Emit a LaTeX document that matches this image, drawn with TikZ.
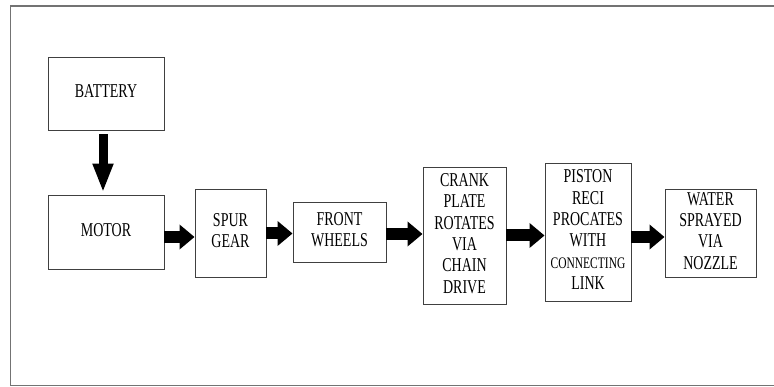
\documentclass[tikz,border=0pt]{standalone}
\usepackage{fontspec}
\setmainfont{Liberation Serif}
\usepackage{graphicx}
\usetikzlibrary{arrows.meta}

% tall, narrow lettering of the block labels
\newcommand{\blocktext}[1]{\scalebox{1}[1.4]{\begin{tabular}{@{}c@{}}#1\end{tabular}}}
\newcommand{\smallword}[1]{{\fontsize{11.5}{15.3}\selectfont #1}}

\begin{document}
\begin{tikzpicture}[x=1pt, y=-1pt]

  % Styles
  \tikzset{
    block/.style={draw=black!75, line width=0.9pt, inner sep=0pt,
      font=\fontsize{14}{15.3}\selectfont},
    flow/.style={line width=12pt, -{Triangle[length=15pt, width=24pt]}},
    drop/.style={line width=9pt, -{Triangle[length=29pt, width=19pt]}}
  }

  \useasboundingbox (0,0) rectangle (774,387);

  % --- FRAME (open on the right) ---
  \draw[black!55, line width=1.5pt] (774,6) -- (10.5,6) -- (10.5,385.5) -- (774,385.5);

  % --- BLOCKS ---
  \node[block, minimum width=116pt, minimum height=73pt] (battery) at (106,93.5) {\blocktext{BATTERY}};
  \node[block, minimum width=116pt, minimum height=74pt] (motor) at (106,232) {\raisebox{3pt}{\blocktext{MOTOR}}};
  \node[block, minimum width=71pt, minimum height=88pt] (spur) at (230.5,233) {\blocktext{SPUR\\GEAR}};
  \node[block, minimum width=93pt, minimum height=60pt] (front) at (339.5,232) {\blocktext{FRONT\\WHEELS}};
  \node[block, minimum width=83pt, minimum height=137pt] (crank) at (464.5,235.5)
    {\raisebox{-4pt}{\blocktext{CRANK\\PLATE\\ROTATES\\VIA\\CHAIN\\DRIVE}}};
  \node[block, minimum width=86pt, minimum height=138pt] (piston) at (588,232)
    {\blocktext{PISTON\\RECI\\PROCATES\\WITH\\\smallword{CONNECTING}\\LINK}};
  \node[block, minimum width=91pt, minimum height=88pt] (water) at (710.5,233)
    {\blocktext{WATER\\SPRAYED\\VIA\\NOZZLE}};

  % --- ARROWS ---
  \draw[drop] ([xshift=-3pt, yshift=-4pt]battery.south) -- ([xshift=-3pt, yshift=2pt]motor.north);
  \draw[flow] ([yshift=-5pt]motor.east) -- ([yshift=-4pt]spur.west);
  \draw[flow] ([yshift=-0.5pt]spur.east) -- ([yshift=-1.5pt]front.west);
  \draw[flow] ([yshift=-2pt]front.east) -- ([yshift=1.5pt]crank.west);
  \draw[flow] (crank.east) -- ([yshift=-3.5pt]piston.west);
  \draw[flow] ([yshift=-5pt]piston.east) -- ([yshift=-4pt]water.west);

\end{tikzpicture}
\end{document}
